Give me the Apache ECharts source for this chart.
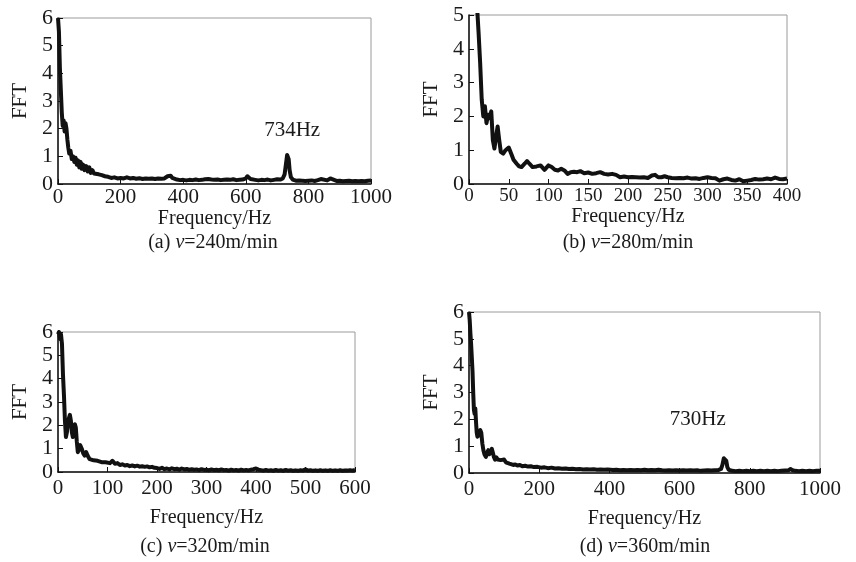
<!DOCTYPE html>
<html>
<head>
<meta charset="utf-8">
<script src="https://cdn.jsdelivr.net/npm/echarts@6/dist/echarts.min.js"></script>
<style>
html,body{margin:0;padding:0;background:#fff;}
#chart{width:856px;height:562px;}
</style>
</head>
<body>
<div id="chart"></div>
<script>
// ---- Data (frequency Hz, FFT amplitude) ----
const fftA = [[0,6.0],[3,5.5],[6,4.2],[9,3.4],[12,2.6],[15,2.1],[18,2.3],[21,1.9],[24,2.2],[27,2.0],[30,1.6],[33,1.3],[36,1.1],[40,1.2],[44,0.9],[48,1.0],[52,0.8],[56,0.95],[60,0.7],[64,0.85],[68,0.6],[72,0.8],[76,0.55],[80,0.7],[85,0.5],[90,0.65],[95,0.45],[100,0.6],[105,0.4],[110,0.5],[115,0.38],[120,0.42],[130,0.35],[140,0.32],[150,0.28],[160,0.26],[170,0.22],[180,0.24],[190,0.2],[200,0.22],[210,0.2],[220,0.24],[230,0.2],[240,0.22],[250,0.19],[260,0.21],[270,0.18],[280,0.2],[290,0.19],[300,0.2],[310,0.18],[320,0.2],[330,0.19],[340,0.2],[350,0.28],[355,0.35],[360,0.3],[365,0.22],[370,0.15],[380,0.16],[390,0.14],[400,0.15],[410,0.13],[420,0.15],[430,0.14],[440,0.16],[450,0.14],[460,0.15],[470,0.17],[480,0.18],[490,0.16],[500,0.15],[510,0.16],[520,0.14],[530,0.15],[540,0.16],[550,0.15],[560,0.17],[570,0.14],[580,0.15],[590,0.16],[600,0.2],[605,0.28],[610,0.25],[615,0.18],[620,0.14],[630,0.15],[640,0.13],[650,0.15],[660,0.14],[670,0.16],[680,0.13],[690,0.15],[700,0.17],[710,0.16],[718,0.2],[724,0.35],[728,0.7],[732,1.05],[734,1.1],[737,0.9],[740,0.5],[744,0.25],[750,0.16],[760,0.12],[770,0.13],[780,0.12],[790,0.11],[800,0.12],[810,0.13],[820,0.11],[830,0.14],[840,0.18],[845,0.12],[860,0.13],[870,0.2],[875,0.13],[890,0.11],[900,0.12],[910,0.1],[920,0.11],[930,0.12],[940,0.1],[950,0.11],[960,0.1],[970,0.11],[980,0.1],[990,0.12],[1000,0.13]];

const fftB = [[4,6.2],[7,5.8],[10,5.3],[12,4.5],[14,3.6],[16,2.5],[18,2.0],[20,2.3],[22,1.8],[24,2.05],[26,1.95],[28,2.15],[30,1.3],[32,1.05],[34,1.4],[36,1.7],[38,1.3],[40,0.95],[43,0.9],[46,1.0],[50,1.08],[53,0.9],[56,0.72],[60,0.6],[63,0.52],[66,0.5],[70,0.6],[73,0.68],[76,0.6],[80,0.5],[85,0.52],[90,0.55],[95,0.42],[100,0.55],[104,0.5],[108,0.42],[112,0.4],[116,0.45],[120,0.4],[124,0.3],[128,0.35],[132,0.36],[136,0.35],[140,0.38],[145,0.32],[150,0.34],[155,0.3],[160,0.32],[165,0.35],[170,0.3],[175,0.28],[180,0.3],[185,0.27],[190,0.2],[195,0.22],[200,0.2],[205,0.21],[210,0.2],[215,0.19],[220,0.2],[225,0.18],[230,0.25],[234,0.27],[238,0.2],[242,0.2],[246,0.23],[250,0.2],[255,0.18],[260,0.17],[265,0.18],[270,0.17],[275,0.19],[280,0.16],[285,0.17],[290,0.15],[295,0.18],[300,0.2],[305,0.18],[310,0.17],[315,0.1],[320,0.14],[325,0.16],[330,0.12],[335,0.1],[340,0.14],[345,0.08],[350,0.1],[355,0.12],[360,0.15],[365,0.13],[370,0.14],[375,0.16],[380,0.14],[385,0.19],[390,0.15],[395,0.14],[400,0.16]];

const fftC = [[0,5.9],[2,6.0],[4,5.7],[6,5.9],[8,5.5],[10,4.2],[12,3.3],[14,2.2],[16,1.5],[18,1.7],[20,2.1],[22,2.3],[24,2.45],[26,2.2],[28,1.7],[30,1.5],[32,1.7],[34,2.05],[36,1.9],[38,1.3],[40,0.85],[42,0.95],[45,1.15],[48,1.0],[51,0.8],[54,0.7],[57,0.85],[60,0.7],[64,0.55],[68,0.6],[72,0.5],[76,0.58],[80,0.48],[84,0.55],[88,0.42],[92,0.5],[96,0.42],[100,0.5],[105,0.38],[110,0.48],[115,0.35],[120,0.38],[125,0.3],[130,0.33],[135,0.28],[140,0.3],[145,0.25],[150,0.28],[155,0.24],[160,0.27],[165,0.23],[170,0.25],[175,0.22],[180,0.24],[185,0.2],[190,0.22],[195,0.18],[200,0.17],[205,0.13],[210,0.18],[215,0.12],[220,0.15],[225,0.11],[230,0.16],[235,0.12],[240,0.14],[245,0.1],[250,0.15],[255,0.11],[260,0.13],[265,0.09],[270,0.12],[275,0.1],[280,0.11],[285,0.08],[290,0.12],[295,0.09],[300,0.1],[305,0.07],[310,0.11],[315,0.08],[320,0.1],[325,0.07],[330,0.11],[335,0.08],[340,0.09],[345,0.06],[350,0.1],[355,0.07],[360,0.09],[365,0.06],[370,0.1],[375,0.07],[380,0.09],[385,0.07],[390,0.1],[395,0.12],[400,0.15],[405,0.1],[410,0.08],[415,0.06],[420,0.09],[425,0.06],[430,0.08],[435,0.05],[440,0.09],[445,0.06],[450,0.08],[455,0.05],[460,0.09],[465,0.06],[470,0.08],[475,0.05],[480,0.07],[485,0.05],[490,0.08],[495,0.06],[500,0.11],[505,0.06],[510,0.08],[515,0.05],[520,0.07],[525,0.05],[530,0.08],[535,0.05],[540,0.07],[545,0.05],[550,0.08],[555,0.05],[560,0.07],[565,0.05],[570,0.08],[575,0.05],[580,0.07],[585,0.06],[590,0.08],[595,0.06],[600,0.09]];

const fftD = [[0,6.0],[2,5.7],[4,5.2],[6,4.8],[8,4.3],[10,3.8],[12,3.0],[14,2.35],[16,2.2],[18,2.4],[20,1.9],[22,1.5],[24,1.35],[26,1.5],[29,1.4],[32,1.6],[35,1.5],[38,1.1],[41,0.85],[44,0.7],[48,0.6],[51,0.75],[55,0.85],[58,0.7],[61,0.65],[65,0.9],[68,0.75],[71,0.6],[74,0.5],[78,0.58],[82,0.5],[86,0.56],[90,0.48],[95,0.45],[100,0.5],[105,0.4],[110,0.42],[115,0.35],[120,0.38],[126,0.3],[132,0.32],[138,0.28],[145,0.3],[152,0.25],[160,0.27],[168,0.24],[176,0.25],[185,0.22],[195,0.23],[205,0.2],[215,0.21],[225,0.18],[235,0.2],[245,0.17],[255,0.18],[265,0.16],[275,0.17],[285,0.15],[295,0.16],[305,0.14],[315,0.15],[325,0.13],[335,0.14],[345,0.13],[355,0.14],[365,0.12],[375,0.13],[385,0.12],[395,0.13],[410,0.11],[420,0.12],[430,0.1],[440,0.11],[450,0.1],[460,0.11],[470,0.1],[480,0.11],[490,0.1],[500,0.12],[510,0.1],[520,0.11],[530,0.1],[540,0.12],[550,0.1],[560,0.09],[570,0.1],[580,0.09],[590,0.1],[600,0.09],[610,0.1],[620,0.09],[630,0.1],[640,0.09],[650,0.1],[660,0.08],[670,0.09],[680,0.1],[690,0.09],[700,0.1],[710,0.11],[718,0.15],[722,0.3],[726,0.55],[730,0.6],[733,0.45],[736,0.22],[740,0.12],[750,0.08],[760,0.07],[770,0.08],[780,0.07],[790,0.08],[800,0.07],[810,0.08],[820,0.07],[830,0.08],[840,0.07],[850,0.08],[860,0.07],[870,0.08],[880,0.07],[890,0.08],[900,0.09],[910,0.1],[916,0.15],[922,0.1],[930,0.08],[940,0.07],[950,0.08],[960,0.07],[970,0.08],[980,0.07],[990,0.08],[1000,0.08]];

// axis ranges
const xMax = [1000, 400, 600, 1000];
const xStep = [200, 50, 100, 200];
const yMax = [6, 5, 6, 6];
const captions = ['(a) {i|v}=240m/min', '(b) {i|v}=280m/min', '(c) {i|v}=320m/min', '(d) {i|v}=360m/min'];
const peakLabels = [{panel: 0, text: '734Hz', coord: [748, 1.95]}, {panel: 3, text: '730Hz', coord: [652, 2.0]}];
const xTitle = 'Frequency/Hz';
const yTitle = 'FFT';

// ---- Layout ----
const FONT = '"Liberation Serif", "Times New Roman", serif';
const grids = [
  {left: 58, top: 18, width: 313, height: 166},
  {left: 469, top: 15, width: 318, height: 169},
  {left: 58, top: 332, width: 297, height: 140},
  {left: 469, top: 312, width: 351, height: 161}
];
const labelMargin = [3, 3, 6, 6];
const nameGap = [23, 23, 36, 36];
const capPos = [[213, 243], [628, 243], [205, 547], [645, 547]];
const series = [fftA, fftB, fftC, fftD];

const option = {
  animation: false,
  backgroundColor: '#fff',
  grid: grids.map(g => Object.assign({show: true, borderColor: '#9a9a9a', borderWidth: 1, backgroundColor: 'transparent'}, g)),
  xAxis: grids.map((g, i) => ({
    type: 'value', gridIndex: i, min: 0, max: xMax[i], interval: xStep[i],
    name: xTitle, nameLocation: 'middle', nameGap: nameGap[i],
    nameTextStyle: {fontFamily: FONT, fontSize: 20, color: '#1a1a1a'},
    axisLine: {show: true, onZero: false, lineStyle: {color: '#111', width: 1.5}},
    axisTick: {show: true, inside: true, length: 5, lineStyle: {color: '#111', width: 1}},
    axisLabel: {fontFamily: FONT, fontSize: i === 1 ? 19 : 21, color: '#1a1a1a', margin: labelMargin[i],
      formatter: v => String(v)},
    splitLine: {show: false}
  })),
  yAxis: grids.map((g, i) => ({
    type: 'value', gridIndex: i, min: 0, max: yMax[i], interval: 1,
    name: yTitle, nameLocation: 'middle', nameGap: 27, nameRotate: 90,
    nameTextStyle: {fontFamily: FONT, fontSize: 21, color: '#1a1a1a'},
    axisLine: {show: true, onZero: false, lineStyle: {color: '#111', width: 1.5}},
    axisTick: {show: true, inside: true, length: 5, lineStyle: {color: '#111', width: 1}},
    axisLabel: {fontFamily: FONT, fontSize: 22, color: '#1a1a1a', margin: 5},
    splitLine: {show: false}
  })),
  series: series.map((d, i) => {
    const s = {
      type: 'line', xAxisIndex: i, yAxisIndex: i, data: d,
      showSymbol: false, symbol: 'none', smooth: false, clip: true,
      lineStyle: {color: '#111', width: 4, join: 'round'}
    };
    const pk = peakLabels.filter(p => p.panel === i);
    if (pk.length) {
      s.markPoint = {
        symbol: 'circle', symbolSize: 1, silent: true,
        itemStyle: {color: 'rgba(0,0,0,0)'},
        label: {show: true, position: 'inside', fontFamily: FONT, fontSize: 21, color: '#1a1a1a'},
        data: pk.map(p => ({coord: p.coord, label: {formatter: p.text}}))
      };
    }
    return s;
  }),
  graphic: captions.map((c, i) => ({
    type: 'text', x: capPos[i][0], y: capPos[i][1],
    style: {
      text: c, fontFamily: FONT, fontSize: 20, fill: '#1a1a1a',
      align: 'center', verticalAlign: 'middle',
      rich: {i: {fontFamily: FONT, fontSize: 20, fontStyle: 'italic', fill: '#1a1a1a'}}
    }
  }))
};

const chart = echarts.init(document.getElementById('chart'), null, {renderer: 'canvas'});
chart.setOption(option);
</script>
</body>
</html>
